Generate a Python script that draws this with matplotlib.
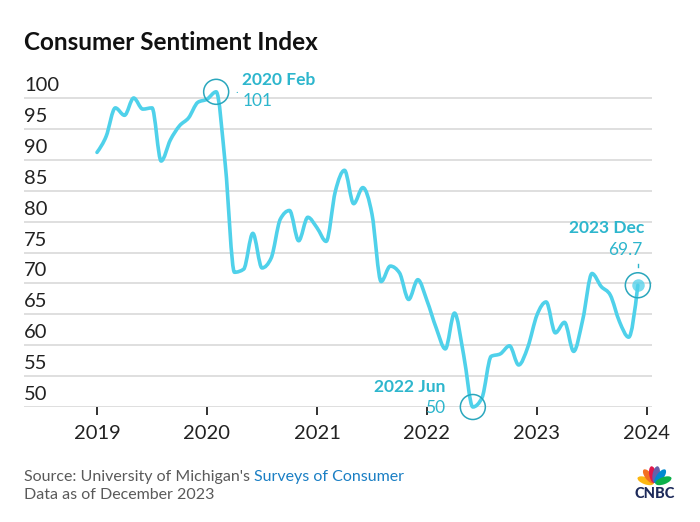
import numpy as np
import matplotlib.pyplot as plt
from matplotlib.patches import Ellipse, PathPatch
from matplotlib.path import Path

plt.rcParams["font.family"] = ["Lato", "DejaVu Sans"]

# monthly index, Jan 2019 .. Dec 2023
years = [2019, 2020, 2021, 2022, 2023]
sentiment = [
    91.2, 93.8, 98.4, 97.2, 100.0, 98.2, 98.4, 89.8, 93.2, 95.5, 96.8, 99.3,
    99.8, 101.0, 89.1, 71.8, 72.3, 78.1, 72.5, 74.1, 80.4, 81.8, 76.9, 80.7,
    79.0, 76.8, 84.9, 88.3, 82.9, 85.5, 81.2, 70.3, 72.8, 71.7, 67.4, 70.6,
    67.2, 62.8, 59.4, 65.2, 58.4, 50.0, 51.5, 58.2, 58.6, 59.9, 56.8, 59.7,
    64.9, 67.0, 62.0, 63.7, 59.0, 64.2, 71.6, 69.5, 68.1, 63.8, 61.3, 69.7,
]
y_ticks = [50, 55, 60, 65, 70, 75, 80, 85, 90, 95, 100]
x_ticks = [2019, 2020, 2021, 2022, 2023, 2024]

months = [y + m / 12 for y in years for m in range(12)]

LINE = "#4fd1ea"
TEAL = "#2db6cd"
RING = "#2aa7bd"
GRID = "#d6d6d6"
TEXT = "#222222"

W, H = 700, 522
fig = plt.figure(figsize=(7, 5.22), dpi=100)


def fx(px):
    return px / W


def fy(py):
    return 1 - py / H


def monotone_path(xs, ys):
    # cubic bezier path through the points (monotone-x tangents, like d3)
    xs, ys = np.asarray(xs, float), np.asarray(ys, float)
    h = np.diff(xs)
    s = np.diff(ys) / h
    t = np.zeros_like(ys)
    for i in range(1, len(ys) - 1):
        p = (s[i - 1] * h[i] + s[i] * h[i - 1]) / (h[i - 1] + h[i])
        t[i] = (np.sign(s[i - 1]) + np.sign(s[i])) * min(
            abs(s[i - 1]), abs(s[i]), 0.5 * abs(p))
    t[0] = (3 * s[0] - t[1]) / 2
    t[-1] = (3 * s[-1] - t[-2]) / 2
    verts = [(xs[0], ys[0])]
    codes = [Path.MOVETO]
    for i in range(len(xs) - 1):
        d = h[i] / 3
        verts += [(xs[i] + d, ys[i] + d * t[i]),
                  (xs[i + 1] - d, ys[i + 1] - d * t[i + 1]),
                  (xs[i + 1], ys[i + 1])]
        codes += [Path.CURVE4] * 3
    return Path(verts, codes)


# axes placed in pixel terms: left 24, right 652, bottom 407 (=50), top 60
ax = fig.add_axes([fx(24), fy(407), fx(628), (407 - 60) / H])
ax.set_xlim(2019 - 73 / 110, 2019 + 555 / 110)
ax.set_ylim(50, 100 + 38 / 6.18)
for s in ax.spines.values():
    s.set_visible(False)
ax.set_yticks([])
ax.set_xticks(x_ticks)
ax.set_xticklabels([str(t) for t in x_ticks], fontsize=14.5, color=TEXT)
ax.tick_params(axis="x", length=6, width=1.4, color="#333333", pad=7)

for v in y_ticks:
    ax.axhline(v, color=GRID, lw=1.1, zorder=1)
    ax.annotate(str(v), xy=(0, v), xycoords=("axes fraction", "data"),
                xytext=(0, 4), textcoords="offset pixels",
                ha="left", va="bottom", fontsize=14.5, color=TEXT)

ax.add_patch(PathPatch(monotone_path(months, sentiment), fill=False,
                       ec=LINE, lw=2.6, joinstyle="round", capstyle="round",
                       zorder=3, clip_on=False))

# rings around the highlighted months
for i in (13, 41, 59):
    ax.add_patch(Ellipse((months[i], sentiment[i]), 25 / 110, 25 / 6.18,
                         fill=False, ec=RING, lw=1.1, zorder=4, clip_on=False))

x0, y0 = months[13], sentiment[13]
ax.annotate("2020 Feb", xy=(x0, y0), xytext=(26, 12), textcoords="offset pixels",
            ha="left", va="center", fontsize=12.5, fontweight="bold", color=TEAL)
ax.annotate("101", xy=(x0, y0), xytext=(26, -9), textcoords="offset pixels",
            ha="left", va="center", fontsize=12.5, color=TEAL)
ax.annotate(".", xy=(x0, y0), xytext=(21, 2), textcoords="offset pixels",
            ha="center", va="center", fontsize=8, color=TEAL)

x1, y1 = months[41], sentiment[41]
ax.annotate("2022 Jun", xy=(x1, y1), xytext=(-27, 20), textcoords="offset pixels",
            ha="right", va="center", fontsize=12.5, fontweight="bold", color=TEAL)
ax.annotate("50", xy=(x1, y1), xytext=(-28, -1), textcoords="offset pixels",
            ha="right", va="center", fontsize=12.5, color=TEAL)

x2, y2 = months[59], sentiment[59]
ax.plot([x2], [y2], "o", ms=9, color=LINE, alpha=0.75, mew=0, zorder=5,
        clip_on=False)
ax.annotate("2023 Dec", xy=(x2, y2), xytext=(6, 57), textcoords="offset pixels",
            ha="right", va="center", fontsize=12.5, fontweight="bold", color=TEAL)
ax.annotate("69.7", xy=(x2, y2), xytext=(5, 35), textcoords="offset pixels",
            ha="right", va="center", fontsize=12.5, color=TEAL)
ax.plot([x2, x2], [y2 + 18 / 6.18, y2 + 21 / 6.18], color=TEAL, lw=1,
        clip_on=False)

# title and source
fig.text(fx(24), fy(43), "Consumer Sentiment Index", fontsize=17.5,
         fontweight="bold", color="#111111", va="center", ha="left")
src = fig.text(fx(24), fy(477), "Source: University of Michigan's ",
               fontsize=11.5, color="#5a5a5a", va="center", ha="left")
fig.canvas.draw()
bb = src.get_window_extent()
fig.text(bb.x1 / W, fy(477), "Surveys of Consumer", fontsize=11.5,
         color="#1a7fc4", va="center", ha="left")
fig.text(fx(24), fy(495), "Data as of December 2023", fontsize=11.5,
         color="#5a5a5a", va="center", ha="left")

# CNBC peacock mark
logo = fig.add_axes([fx(630), fy(502), fx(50), 45 / H])
logo.set_xlim(0, 50)
logo.set_ylim(0, 45)
logo.axis("off")
feathers = ["#fcb711", "#f37021", "#e0174a", "#6460aa", "#0089d0", "#0db14b"]
angles = [160, 127, 100, 80, 53, 20]
for c, a in zip(feathers, angles):
    r = np.radians(a)
    cx, cy = 24.5 + 9.5 * np.cos(r), 18 + 9.5 * np.sin(r)
    logo.add_patch(Ellipse((cx, cy), 17, 7.2, angle=a, color=c, lw=0))
logo.text(24.5, 8, "CNBC", ha="center", va="center", fontsize=10.5,
          fontweight="black", color="#1d2a5a")

fig.savefig("out.png", dpi=100, facecolor="white")
